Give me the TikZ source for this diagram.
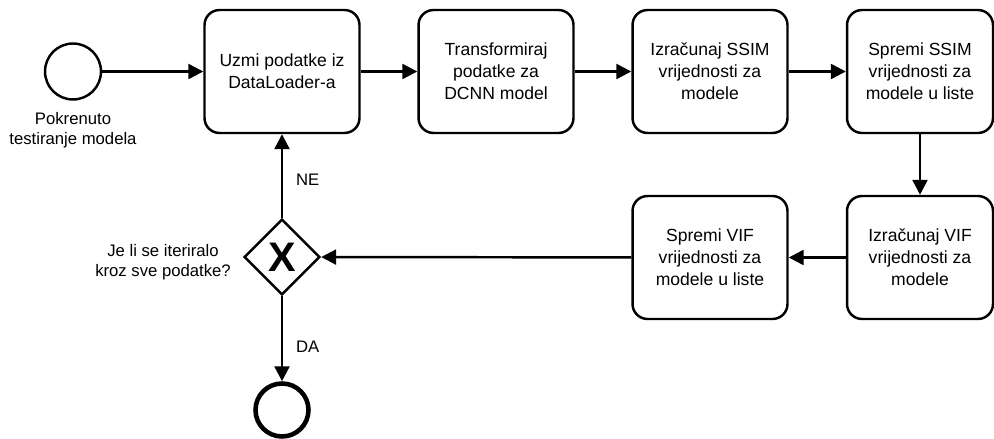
\documentclass[tikz,border=0pt]{standalone}
\usepackage{fontspec}
\setmainfont{Liberation Sans}
\usetikzlibrary{arrows.meta,shapes.geometric}
\begin{document}
\begin{tikzpicture}[x=0.02cm,y=-0.02cm,
  task/.style={draw,rounded corners=0.3cm,line width=1.4pt,minimum width=3.1cm,
    minimum height=2.46cm,align=center,font=\fontsize{10}{12.5}\selectfont},
  event/.style={draw,circle,line width=1.4pt,minimum size=1.12cm,inner sep=0pt},
  gateway/.style={draw,diamond,line width=1.4pt,minimum width=1.52cm,
    minimum height=1.52cm,inner sep=0pt,font=\fontsize{23.5}{24}\bfseries},
  note/.style={align=center,font=\fontsize{9.5}{11.3}\selectfont},
  flow/.style={line width=1.4pt,-{Triangle[length=8.5pt,width=8.5pt]}}]
\useasboundingbox (0,0) rectangle (994,439);
% start event
\node[event] (start) at (73,71.5) {};
\node[note] (startlbl) at (73,130) {Pokrenuto\\testiranje modela};
% upper row
\node[task] (uzmi) at (282,71.5) {Uzmi podatke iz\\DataLoader-a};
\node[task] (transf) at (496,71.5) {Transformiraj\\podatke za\\DCNN model};
\node[task] (ssim) at (710,71.5) {Izračunaj SSIM\\vrijednosti za\\modele};
\node[task,minimum width=2.92cm] (spremissim) at (920,71.5) {Spremi SSIM\\vrijednosti za\\modele u liste};
% lower row
\node[task,minimum width=2.92cm] (vif) at (920,257.5) {Izračunaj VIF\\vrijednosti za\\modele};
\node[task] (spremivif) at (710,257.5) {Spremi VIF\\vrijednosti za\\modele u liste};
% gateway
\node[gateway] (gw) at (282,257) {X};
\node[note] (gwlbl) at (163,262) {Je li se iteriralo\\kroz sve podatke?};
% end event
\node[event,line width=2.6pt,minimum size=1.06cm] (end) at (282,410) {};
% connectors
\draw[flow] (start) -- (uzmi);
\draw[flow] (uzmi) -- (transf);
\draw[flow] (transf) -- (ssim);
\draw[flow] (ssim) -- (spremissim);
\draw[flow] (spremissim) -- (vif);
\draw[flow] (vif) -- (spremivif);
\draw[flow] (spremivif) -- (gw);
\draw[flow] (gw) -- node[note,right,pos=0.45,xshift=4pt] (ne) {NE} (uzmi);
\draw[flow] (gw) -- node[note,right,pos=0.6,xshift=4pt] (da) {DA} (end);
\end{tikzpicture}
\end{document}
